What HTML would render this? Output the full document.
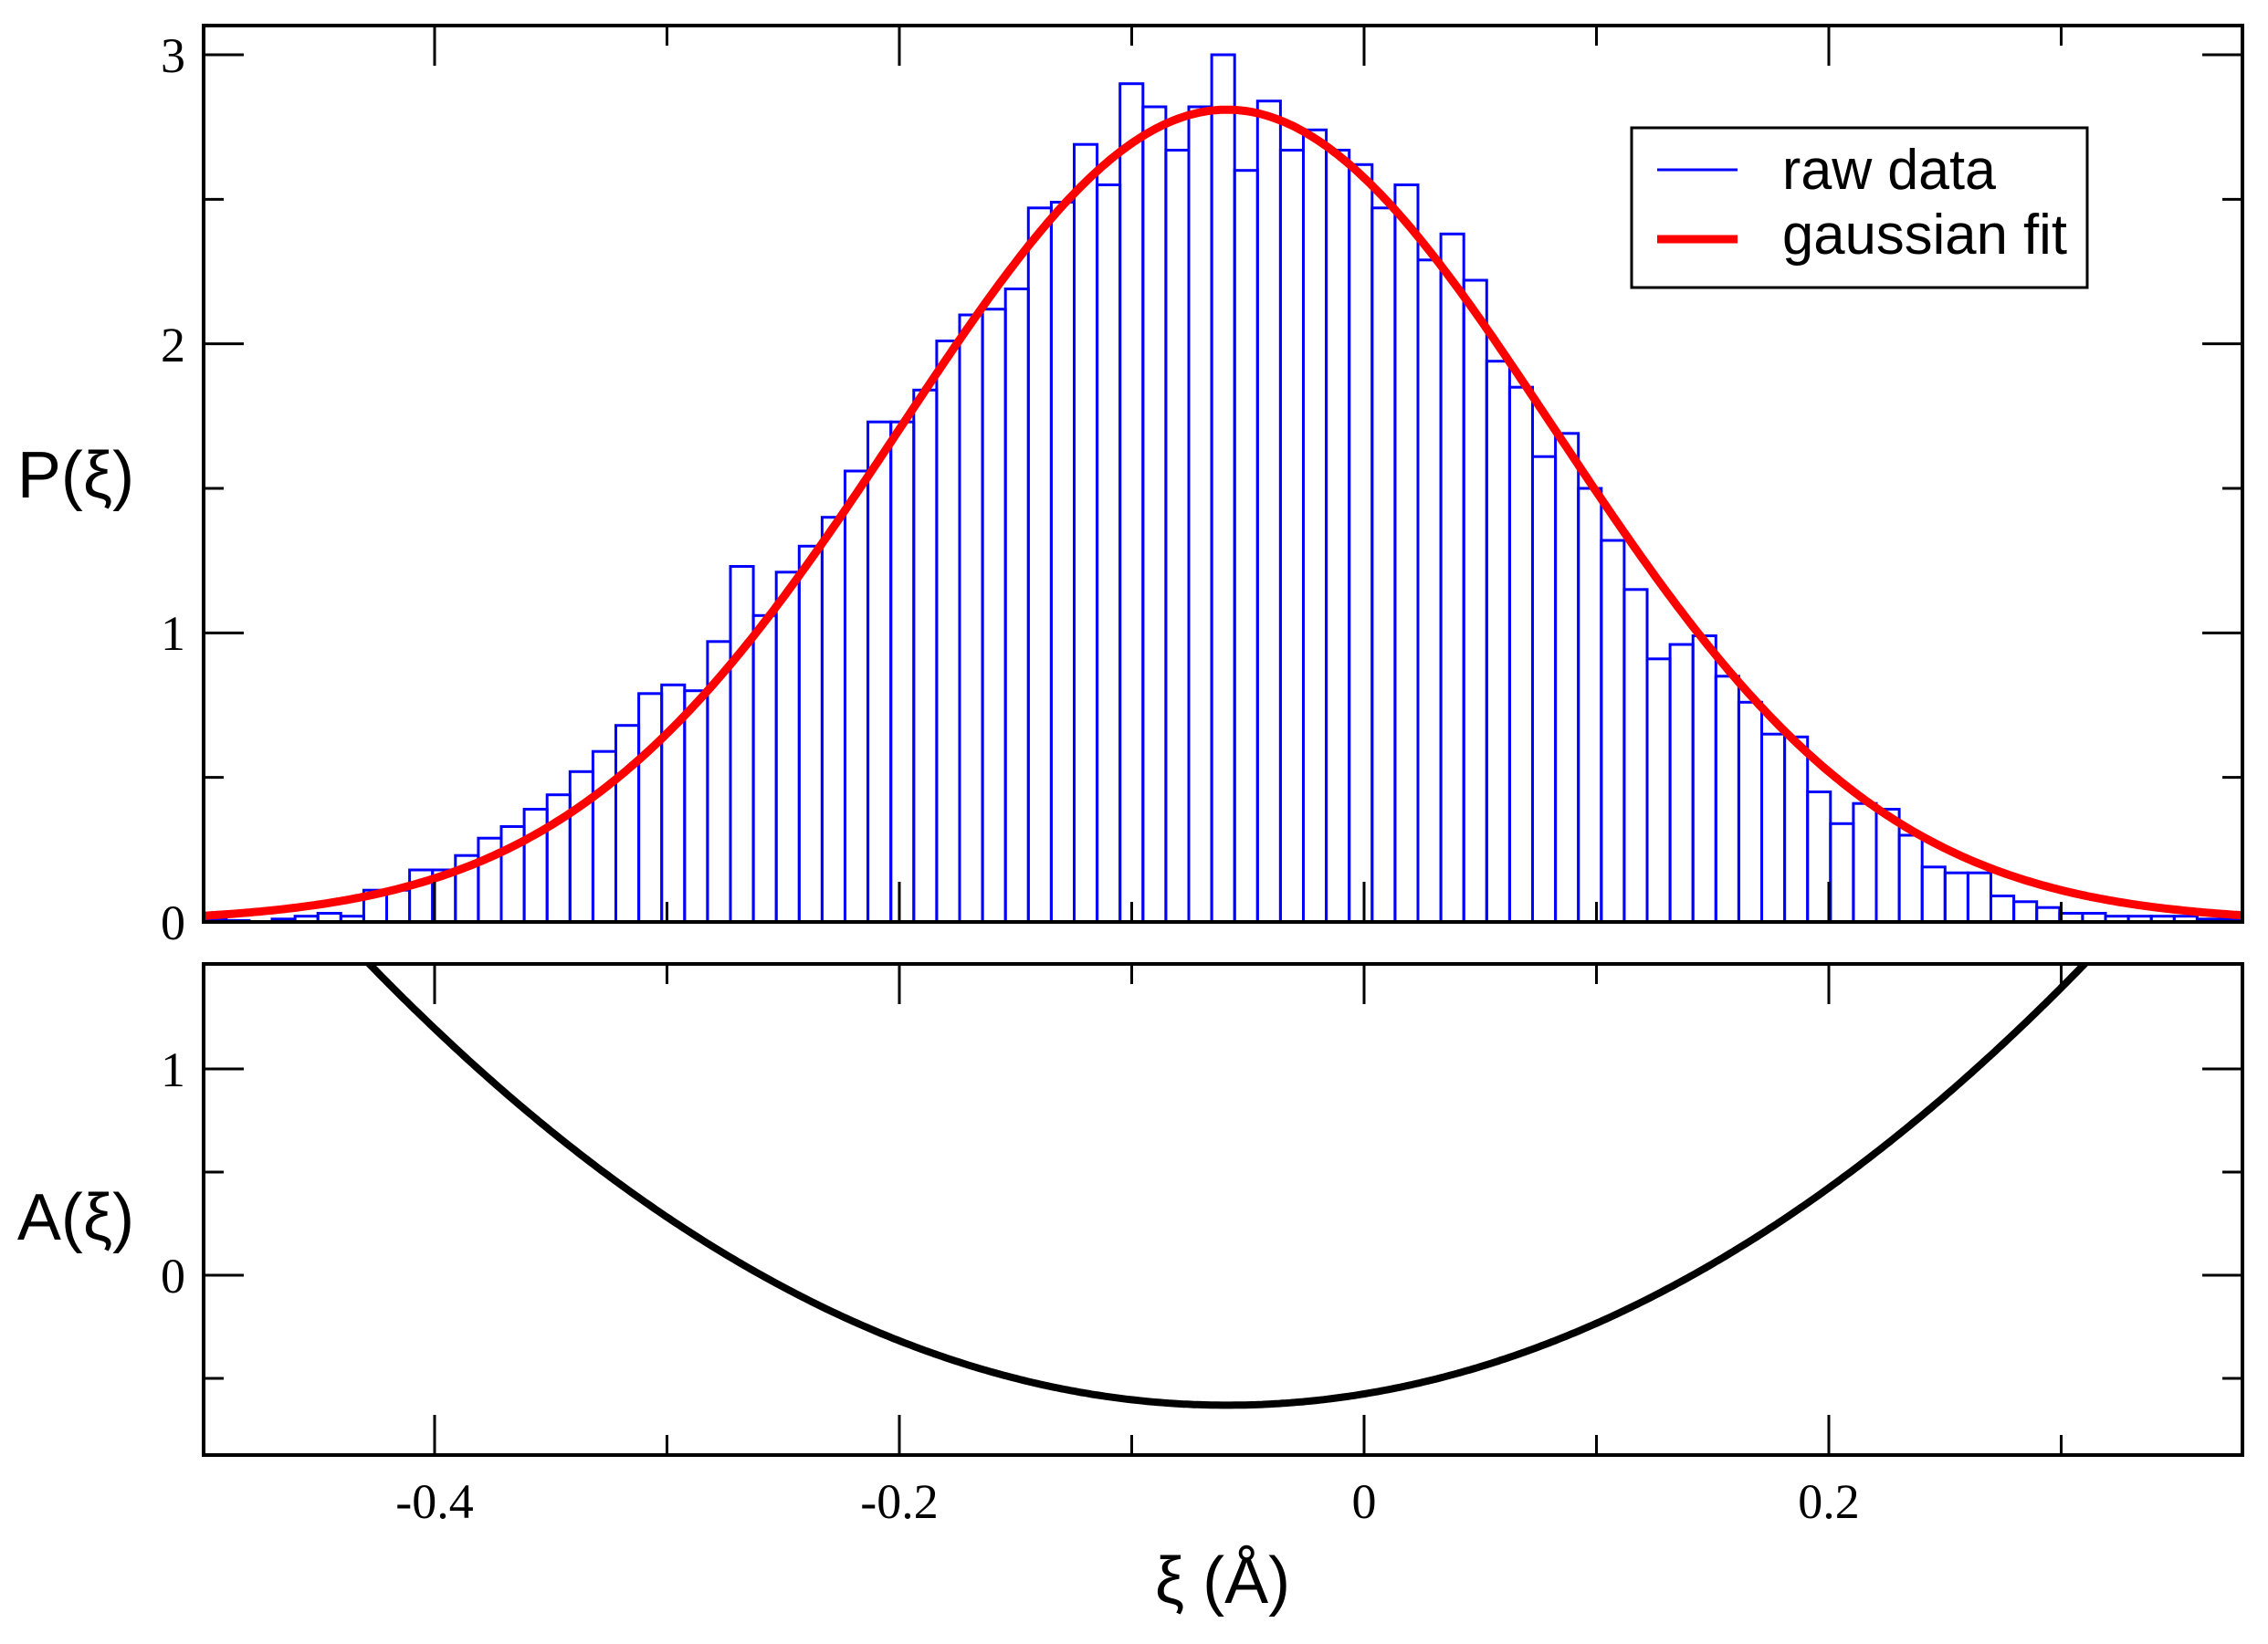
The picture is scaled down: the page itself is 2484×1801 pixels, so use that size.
<!DOCTYPE html>
<html><head><meta charset="utf-8"><style>
html,body{margin:0;padding:0;background:#fff;}
svg{display:block;}
.tl{font-family:"Liberation Serif",serif;font-size:54px;fill:#000;}
.al{font-family:"Liberation Sans",sans-serif;font-size:72px;fill:#000;}
.lg{font-family:"Liberation Sans",sans-serif;font-size:62px;fill:#000;}
</style></head><body>
<svg id="s" width="2484" height="1801" viewBox="0 0 2484 1801" xmlns="http://www.w3.org/2000/svg">
<defs>
<clipPath id="c1"><rect x="223" y="28" width="2233" height="982"/></clipPath>
<clipPath id="c2"><rect x="223" y="1056" width="2233" height="538"/></clipPath>
</defs>
<g id="hist" clip-path="url(#c1)" fill="none" stroke="#0000ff" stroke-width="3"></g>
<path id="gauss" clip-path="url(#c1)" fill="none" stroke="#ff0000" stroke-width="9" stroke-linejoin="round"/>
<path id="para" clip-path="url(#c2)" fill="none" stroke="#000" stroke-width="8"/>
<g id="ticks" stroke="#000" stroke-width="3"></g>
<rect x="223" y="28" width="2233" height="982" fill="none" stroke="#000" stroke-width="4"/>
<rect x="223" y="1056" width="2233" height="538" fill="none" stroke="#000" stroke-width="4"/>
<text class="tl" x="203" y="79" text-anchor="end">3</text>
<text class="tl" x="203" y="396" text-anchor="end">2</text>
<text class="tl" x="203" y="712" text-anchor="end">1</text>
<text class="tl" x="203" y="1029" text-anchor="end">0</text>
<text class="tl" x="203" y="1190" text-anchor="end">1</text>
<text class="tl" x="203" y="1416" text-anchor="end">0</text>
<text class="tl" x="476" y="1663" text-anchor="middle">-0.4</text>
<text class="tl" x="985" y="1663" text-anchor="middle">-0.2</text>
<text class="tl" x="1494" y="1663" text-anchor="middle">0</text>
<text class="tl" x="2003" y="1663" text-anchor="middle">0.2</text>
<text class="al" x="83" y="545" text-anchor="middle">P(ξ)</text>
<text class="al" x="83" y="1358" text-anchor="middle">A(ξ)</text>
<text class="al" x="1339" y="1756" text-anchor="middle">ξ (Å)</text>
<rect x="1787" y="140" width="499" height="175" fill="#fff" stroke="#000" stroke-width="3"/>
<line x1="1815" y1="186" x2="1903" y2="186" stroke="#0000ff" stroke-width="3"/>
<line x1="1815" y1="262" x2="1903" y2="262" stroke="#ff0000" stroke-width="9"/>
<text class="lg" x="1952" y="207" textLength="234" lengthAdjust="spacingAndGlyphs">raw data</text>
<text class="lg" x="1952" y="278" textLength="312" lengthAdjust="spacingAndGlyphs">gaussian fit</text>
</svg>
<script>
(function(){
var NS="http://www.w3.org/2000/svg";
function X(x){return 1494+2545*x;}
function Yu(v){return 1010-316.67*v;}
function Yl(v){return 1397-226*v;}
var vals=[0.01,0.005,0,0.01,0.02,0.03,0.02,0.11,0.11,0.18,0.18,0.23,0.29,0.33,0.39,0.44,0.52,0.59,0.68,0.79,0.82,0.80,0.97,
1.23,1.06,1.21,1.30,1.40,1.56,1.73,1.73,1.84,2.01,2.10,2.12,2.19,2.47,2.49,2.69,2.55,2.90,2.82,2.67,2.82,3.0,
2.60,2.84,2.67,2.74,2.67,2.62,2.47,2.55,2.29,2.38,2.22,1.94,1.85,1.61,1.69,1.50,1.32,1.15,0.91,0.96,0.99,0.85,0.76,0.65,0.64,0.45,0.34,0.41,0.39,0.30,0.19,0.17,0.17,0.09,0.07,0.05,0.03,0.03,0.02,0.02,0.02,0.02,0.01,0.01];
var h=document.getElementById('hist');
for(var i=0;i<vals.length;i++){
 var k=i-23;var x0=800+25.1*k;var y=Yu(vals[i]);
 var r=document.createElementNS(NS,'rect');
 r.setAttribute('x',x0.toFixed(1));r.setAttribute('y',y.toFixed(1));
 r.setAttribute('width','25.1');r.setAttribute('height',(1010-y).toFixed(1));
 h.appendChild(r);
}
var d='',d2='';
for(var j=0;j<=600;j++){
 var x=-0.5+0.88*j/600;
 var p=2.81*Math.exp(-Math.pow(x+0.059,2)/(2*0.141*0.141));
 d+=(j?'L':'M')+X(x).toFixed(1)+' '+Yu(p).toFixed(1);
 var a=15.7*Math.pow(x+0.059,2)-0.63;
 d2+=(j?'L':'M')+X(x).toFixed(1)+' '+Yl(a).toFixed(1);
}
document.getElementById('gauss').setAttribute('d',d);
document.getElementById('para').setAttribute('d',d2);
var t=document.getElementById('ticks');
function L(x1,y1,x2,y2){var l=document.createElementNS(NS,'line');l.setAttribute('x1',x1);l.setAttribute('y1',y1);l.setAttribute('x2',x2);l.setAttribute('y2',y2);t.appendChild(l);}
for(var m=-4;m<=3;m++){
 var xv=X(m/10);var maj=(m%2===0);var len=maj?44:22;
 L(xv,28,xv,28+len);L(xv,1010,xv,1010-len);
 L(xv,1056,xv,1056+len);L(xv,1594,xv,1594-len);
}
for(var n=0;n<=6;n++){
 var v=n/2;var yy=Yu(v);var len2=(n%2===0)?44:22;
 L(223,yy,223+len2,yy);L(2456,yy,2456-len2,yy);
}
[-0.5,0,0.5,1].forEach(function(v){var yy=Yl(v);var len3=(v===0||v===1)?44:22;L(223,yy,223+len3,yy);L(2456,yy,2456-len3,yy);});
})();
</script>
</body></html>
